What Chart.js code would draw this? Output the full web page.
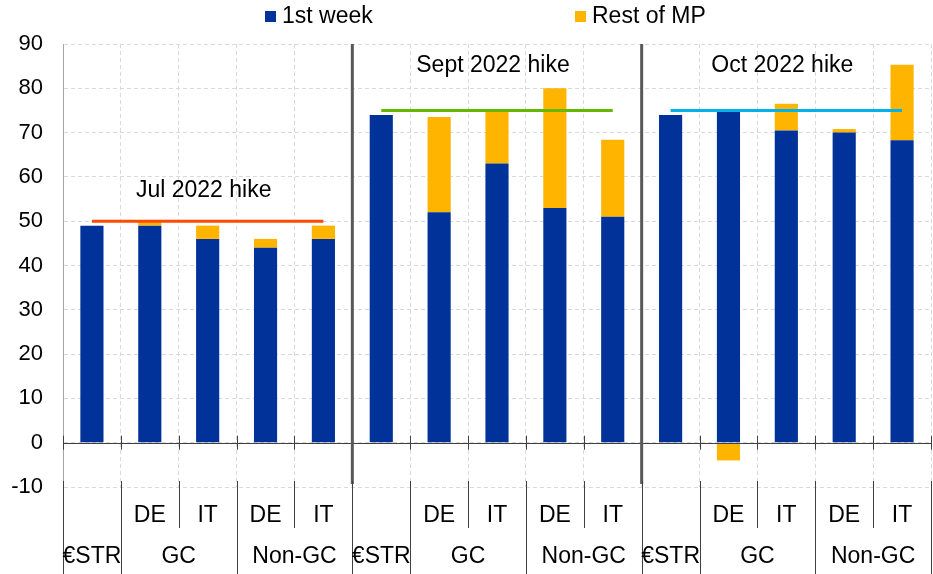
<!DOCTYPE html>
<html>
<head>
<meta charset="utf-8">
<script src="https://cdn.jsdelivr.net/npm/chart.js@4.4.1/dist/chart.umd.min.js"></script>
<style>
  html, body { margin: 0; padding: 0; background: #fff; }
</style>
</head>
<body>
<canvas id="chart" width="933" height="574"></canvas>
<script>
// --- data ---
const subLabels = ["", "DE", "IT", "DE", "IT"];
const mainLabels = ["€STR", "GC", "Non-GC"];
const mainSpans = [1, 2, 2];
const hikeNames = ["Jul 2022 hike", "Sept 2022 hike", "Oct 2022 hike"];
const hikeSizes = [50, 75, 75];

const firstWeek = [49, 49, 46, 44, 46, 74, 52, 63, 53, 51, 74, 75, 70.5, 70, 68.3];
const restOfMP = [0, 1, 3, 2, 3, 0, 21.5, 12, 27, 17.4, 0, -4, 6, 0.8, 17];

const yTicks = [-10, 0, 10, 20, 30, 40, 50, 60, 70, 80, 90];

// --- styling ---
const FONT = '"Liberation Sans", Arial, sans-serif';
const BLUE = "#003299";
const ORANGE = "#FFB400";
const hikeColors = ["#FF4B00", "#65B800", "#00B1EA"];

const perGroup = subLabels.length;
const labels = [];
hikeNames.forEach((h, g) => subLabels.forEach((s, i) => labels.push(g * perGroup + i)));

// one flat line per hike, across the bars of its group
const hikeLines = hikeSizes.map((v, g) => ({
    type: "line",
    label: hikeNames[g],
    data: labels.map((_, i) => (Math.floor(i / perGroup) === g ? v : null)),
    borderColor: hikeColors[g],
    borderWidth: 3,
    pointRadius: 0,
    spanGaps: false,
    stack: "hike" + g,
    order: 0,
}));

const overlay = {
    id: "overlay",
    afterDatasetsDraw(chart) {
        const { ctx, chartArea: a, scales: { x, y } } = chart;
        const y0 = y.getPixelForValue(0);
        ctx.save();

        // zero line with small ticks at category boundaries
        ctx.strokeStyle = "#404040";
        ctx.lineWidth = 1;
        ctx.beginPath();
        ctx.moveTo(a.left, Math.round(y0) + 0.5);
        ctx.lineTo(a.right, Math.round(y0) + 0.5);
        for (let i = 0; i <= labels.length; i++) {
            const px = Math.round(x.getPixelForValue(i - 0.5)) + 0.5;
            ctx.moveTo(px, y0 - 7);
            ctx.lineTo(px, y0 + 7);
        }
        ctx.stroke();

        // thick separators between hikes
        ctx.strokeStyle = "#595959";
        ctx.lineWidth = 3;
        ctx.beginPath();
        for (let g = 1; g < hikeNames.length; g++) {
            const px = x.getPixelForValue(g * perGroup - 0.5);
            ctx.moveTo(px, a.top);
            ctx.lineTo(px, a.bottom - 3);
        }
        ctx.stroke();

        // hike annotations
        ctx.fillStyle = "#000";
        ctx.font = "23px " + FONT;
        ctx.textAlign = "center";
        ctx.textBaseline = "middle";
        const textLevel = [56.8, 85.2, 85.2];
        hikeNames.forEach((h, g) => {
            const px = x.getPixelForValue(g * perGroup + 2) - 4;
            ctx.fillText(h, px, y.getPixelForValue(textLevel[g]));
        });
        ctx.restore();
    },
    afterDraw(chart) {
        const { ctx, chartArea: a, scales: { x } } = chart;
        const row1Bottom = a.bottom + 41;
        const bottom = chart.height;
        ctx.save();

        // category label grid
        ctx.strokeStyle = "#404040";
        ctx.lineWidth = 1;
        ctx.beginPath();
        const fullBounds = new Set([0]);
        let pos = 0;
        for (let g = 0; g < hikeNames.length; g++) {
            mainSpans.forEach((s) => { pos += s; fullBounds.add(pos); });
        }
        for (let i = 0; i <= labels.length; i++) {
            const px = Math.round(x.getPixelForValue(i - 0.5)) + 0.5;
            ctx.moveTo(px, a.bottom - 6);
            ctx.lineTo(px, fullBounds.has(i) ? bottom : row1Bottom);
        }
        ctx.stroke();

        ctx.fillStyle = "#000";
        ctx.font = "23px " + FONT;
        ctx.textAlign = "center";
        ctx.textBaseline = "middle";
        labels.forEach((i) => {
            const t = subLabels[i % perGroup];
            if (t) ctx.fillText(t, x.getPixelForValue(i), a.bottom + 29);
        });
        let start = 0;
        for (let g = 0; g < hikeNames.length; g++) {
            mainLabels.forEach((m, k) => {
                const mid = start + (mainSpans[k] - 1) / 2;
                ctx.fillText(m, x.getPixelForValue(mid), a.bottom + 70);
                start += mainSpans[k];
            });
        }

        // legend
        const items = [
            { text: "1st week", color: BLUE, x: 265 },
            { text: "Rest of MP", color: ORANGE, x: 575 },
        ];
        ctx.textAlign = "left";
        items.forEach((it) => {
            ctx.fillStyle = it.color;
            ctx.fillRect(it.x, 11, 11, 11);
            ctx.fillStyle = "#000";
            ctx.fillText(it.text, it.x + 17, 17);
        });
        ctx.restore();
    },
};

new Chart(document.getElementById("chart"), {
    data: {
        labels: labels,
        datasets: [
            ...hikeLines,
            {
                type: "bar",
                label: "1st week",
                data: firstWeek,
                backgroundColor: BLUE,
                stack: "bars",
                order: 1,
            },
            {
                type: "bar",
                label: "Rest of MP",
                data: restOfMP,
                backgroundColor: ORANGE,
                stack: "bars",
                order: 1,
            },
        ],
    },
    options: {
        responsive: false,
        animation: false,
        layout: { padding: { top: 44, right: 2, left: 0, bottom: 0 } },
        datasets: { bar: { barPercentage: 0.4, categoryPercentage: 1 } },
        plugins: {
            legend: { display: false },
            tooltip: { enabled: false },
        },
        scales: {
            x: {
                stacked: true,
                ticks: { display: false },
                grid: { color: "#d9d9d9", drawTicks: false },
                border: { display: false, dash: [4, 3] },
                afterFit: (s) => { s.height = 87; },
            },
            y: {
                stacked: true,
                min: -10,
                max: 90,
                afterBuildTicks: (s) => { s.ticks = yTicks.map((v) => ({ value: v })); },
                ticks: {
                    color: "#000",
                    padding: 20,
                    font: { family: FONT, size: 22 },
                },
                grid: { color: "#d9d9d9", drawTicks: false },
                border: { color: "#a6a6a6", dash: [4, 3] },
                afterFit: (s) => { s.width = 63; },
            },
        },
    },
    plugins: [overlay],
});
</script>
</body>
</html>
